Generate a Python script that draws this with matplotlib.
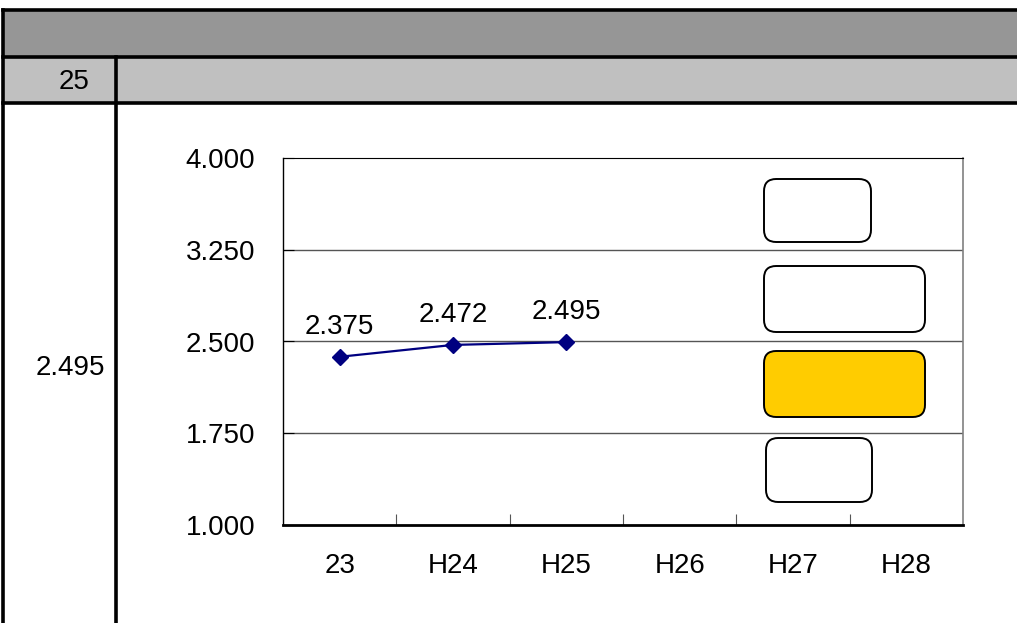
import matplotlib
matplotlib.use("Agg")
import matplotlib.pyplot as plt
from matplotlib.lines import Line2D
from matplotlib.patches import Rectangle, FancyBboxPatch

# data
categories = ["23", "H24", "H25", "H26", "H27", "H28"]
values = [2.375, 2.472, 2.495]
value_labels = ["2.375", "2.472", "2.495"]
y_ticks = [1.0, 1.75, 2.5, 3.25, 4.0]
y_tick_labels = ["1.000", "1.750", "2.500", "3.250", "4.000"]
row_label = "25"
current_value = "2.495"

W, H = 1017, 623
plt.rcParams["font.family"] = ["Liberation Sans Narrow", "Liberation Sans", "DejaVu Sans"]
FS = 20

fig = plt.figure(figsize=(W / 100, H / 100), dpi=100)


def fx(x):
    return x / W


def fy(y):
    return 1 - y / H


# 表の背景
fig.add_artist(Rectangle((fx(3), fy(57)), fx(W - 3), 47 / H, transform=fig.transFigure,
                         facecolor="#969696", edgecolor="none"))
fig.add_artist(Rectangle((fx(3), fy(103)), fx(W - 3), 46 / H, transform=fig.transFigure,
                         facecolor="#c0c0c0", edgecolor="none"))

# 罫線
lw = 2.6
for y in (10, 57, 103):
    fig.add_artist(Line2D([fx(3), 1], [fy(y), fy(y)], transform=fig.transFigure,
                          color="black", lw=lw))
fig.add_artist(Line2D([fx(3), fx(3)], [fy(10), 0], transform=fig.transFigure,
                      color="black", lw=lw))
fig.add_artist(Line2D([fx(116), fx(116)], [fy(57), 0], transform=fig.transFigure,
                      color="black", lw=lw))

fig.text(fx(74), fy(82), row_label, ha="center", va="center", fontsize=FS)
fig.text(fx(70), fy(368), current_value, ha="center", va="center", fontsize=FS)

# グラフ
ax = fig.add_axes([fx(283), fy(525), fx(680), 367 / H])
x = [i + 0.5 for i in range(len(values))]
ax.plot(x, values, color="#000080", lw=1.6, marker="D", markersize=8,
        markerfacecolor="#000080", markeredgecolor="#000080")
for xi, v, s in zip(x, values, value_labels):
    ax.annotate(s, (xi, v), xytext=(0, 12), textcoords="offset points",
                ha="center", va="bottom", fontsize=FS)

ax.set_xlim(0, len(categories))
ax.set_ylim(1.0, 4.0)
ax.set_yticks(y_ticks)
ax.set_yticklabels(y_tick_labels, fontsize=FS)
ax.set_xticks([i + 0.5 for i in range(len(categories))])
ax.set_xticklabels(categories, fontsize=FS)
ax.set_xticks(range(1, len(categories)), minor=True)
ax.tick_params(axis="x", which="major", length=0, pad=20)
ax.tick_params(axis="x", which="minor", direction="in", length=8, width=0.8, color="#555555")
ax.tick_params(axis="y", direction="in", length=8, width=0.8, pad=20)
for t in ax.get_yticklabels():
    t.set_ha("right")

for g in y_ticks[1:-1]:
    ax.axhline(g, color="#555555", lw=1.0, zorder=0)

ax.spines["left"].set_color("black")
ax.spines["left"].set_linewidth(1.0)
ax.spines["top"].set_color("black")
ax.spines["top"].set_linewidth(0.8)
ax.spines["right"].set_color("#808080")
ax.spines["right"].set_linewidth(1.2)
ax.spines["bottom"].set_color("black")
ax.spines["bottom"].set_linewidth(2.0)

# 凡例の枠
boxes = [
    (764, 179, 107, 63, "white"),
    (764, 266, 161, 66, "white"),
    (764, 351, 161, 66, "#ffcc00"),
    (766, 438, 106, 64, "white"),
]
for bx, by, bw, bh, c in boxes:
    fig.add_artist(FancyBboxPatch((fx(bx), fy(by + bh)), fx(bw), bh / H,
                                  boxstyle="round,pad=0,rounding_size=0.012",
                                  transform=fig.transFigure, facecolor=c,
                                  edgecolor="black", lw=1.4, mutation_aspect=W / H))

fig.savefig("out.png", dpi=100)
